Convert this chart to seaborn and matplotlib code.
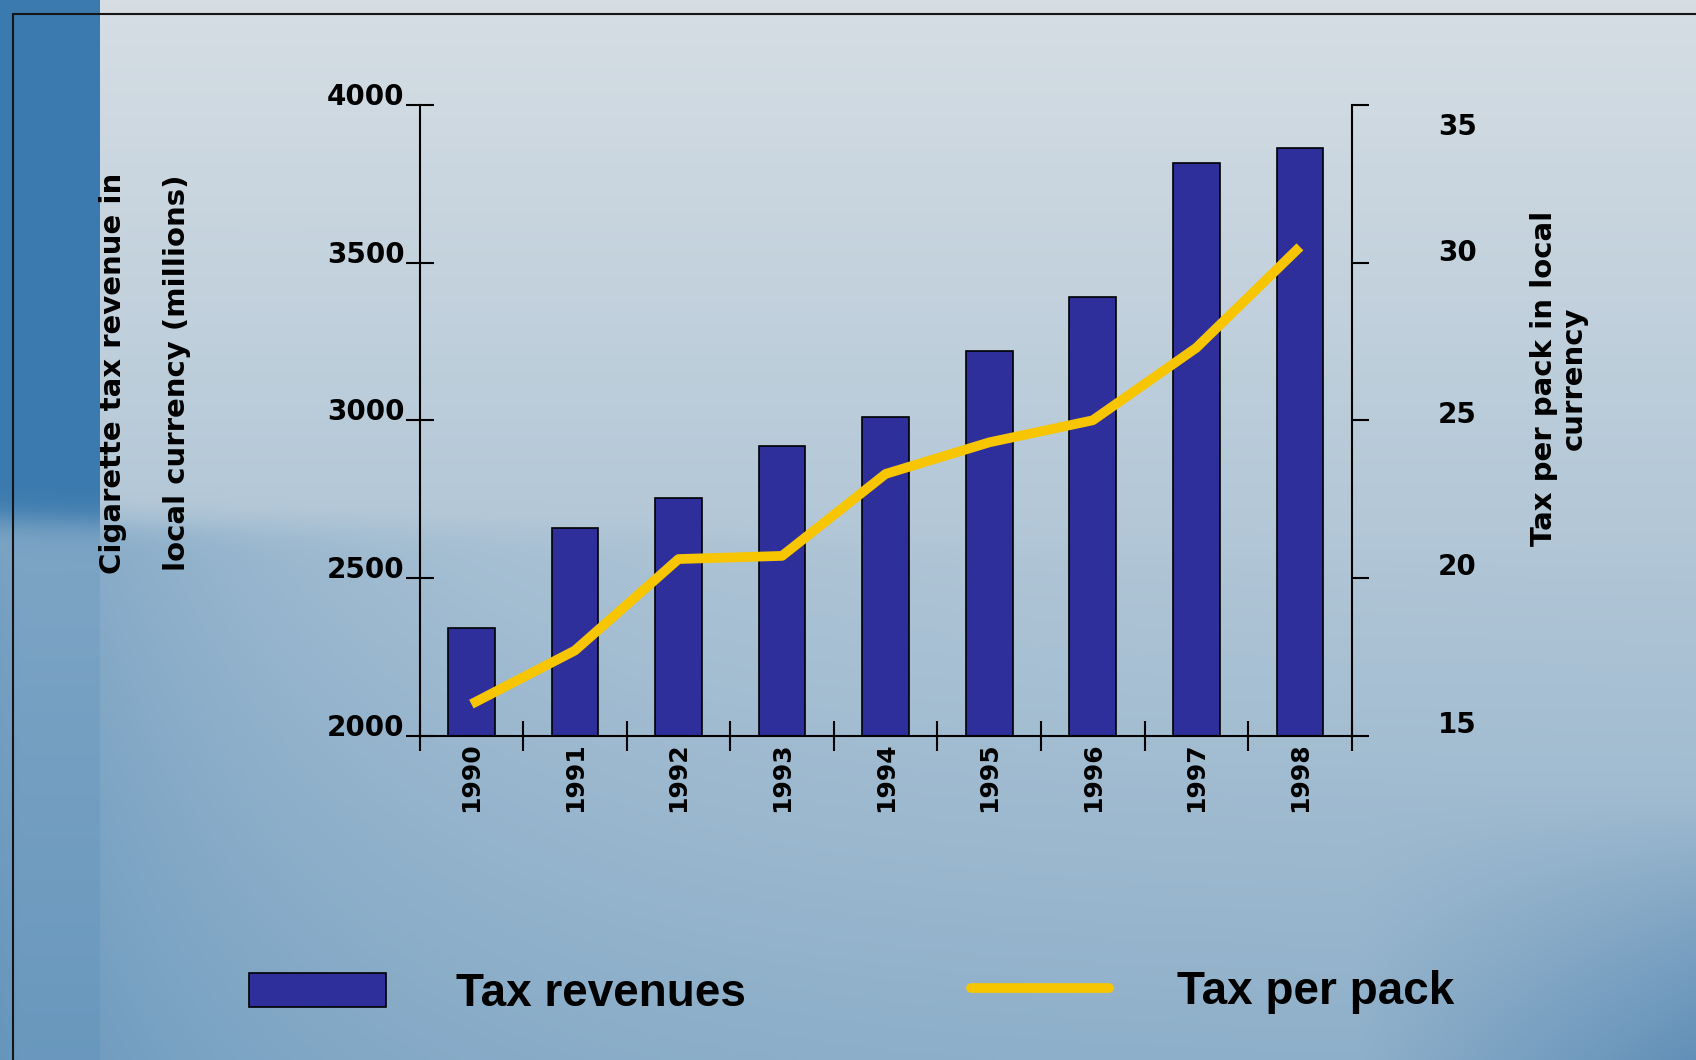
import numpy as np
import pandas as pd
import seaborn as sns
import matplotlib.pyplot as plt
from matplotlib.lines import Line2D
from matplotlib.patches import Patch
from matplotlib.colors import to_rgb
import matplotlib.transforms as mtransforms

# data
years = ["1990", "1991", "1992", "1993", "1994", "1995", "1996", "1997", "1998"]
tax_revenue = [2340, 2660, 2755, 2920, 3010, 3220, 3390, 3815, 3865]
tax_per_pack = [16.0, 17.7, 20.6, 20.7, 23.3, 24.3, 25.0, 27.3, 30.5]
left_ticks = [2000, 2500, 3000, 3500, 4000]
right_ticks = [15, 20, 25, 30, 35]

df = pd.DataFrame({"Year": years, "Revenue": tax_revenue, "PerPack": tax_per_pack})
df["pos"] = np.arange(len(df))

sns.set_style("ticks")
plt.rcParams["font.family"] = ["DejaVu Sans"]
plt.rcParams["font.weight"] = "bold"
for k in ["text.color", "axes.labelcolor", "xtick.color", "ytick.color", "axes.edgecolor"]:
    plt.rcParams[k] = "black"

BAR = "#2f2f9c"
GOLD = "#f7c600"

fig = plt.figure(figsize=(16.96, 10.6), dpi=100)

# --- background gradient ---
bg = fig.add_axes([0, 0, 1, 1], zorder=-10)
h, w = 530, 848
yy, xx = np.mgrid[0:1:h * 1j, 0:1:w * 1j]
top = np.array(to_rgb("#d6dee4"))
bot = np.array(to_rgb("#8fb0ca"))
img = top * (1 - yy[..., None]) + bot * yy[..., None]
strip = np.array(to_rgb("#3b7aae"))
edge = 0.49 + 0.04 * xx
lower = 1 / (1 + np.exp(-(yy - edge) / 0.008))
wgt = np.where(xx < 0.058, 1.0 - 0.55 * lower, 0.0)
wgt = np.maximum(wgt, 0.35 * np.exp(-(xx - 0.058) / 0.18) * lower)
img = img * (1 - wgt[..., None]) + strip * wgt[..., None]
corner = np.array(to_rgb("#4f82b0"))
cw = 0.7 * np.clip((xx - 0.8) / 0.2, 0, 1) * np.clip((yy - 0.75) / 0.25, 0, 1)
img = img * (1 - cw[..., None]) + corner * cw[..., None]
bg.imshow(img, aspect="auto", extent=[0, 1, 0, 1], origin="upper")
bg.axis("off")

fig.add_artist(Line2D([0.0077, 1.0], [0.987, 0.987], transform=fig.transFigure, color="#151515", lw=1.5))
fig.add_artist(Line2D([0.0077, 0.0077], [0.0, 0.987], transform=fig.transFigure, color="#151515", lw=1.5))

# --- main chart ---
ax = fig.add_axes([0.2474, 0.306, 0.5496, 0.595])
ax.patch.set_alpha(0)
sns.barplot(data=df, x="Year", y="Revenue", color=BAR, saturation=1,
            edgecolor="black", linewidth=1.2, width=0.45, ax=ax)
ax.set_ylim(2000, 4000)
ax.set_yticks(left_ticks)
ax.set_xlim(-0.5, len(years) - 0.5)
ax.set_xticks(np.arange(-0.5, len(years)), minor=True)
ax.set_xlabel("")
ax.set_ylabel("")
ax.tick_params(axis="y", direction="inout", length=20, width=1.5, labelsize=20, pad=1)
ax.tick_params(axis="x", which="major", length=0, labelsize=18, labelrotation=90, pad=5)
ax.tick_params(axis="x", which="minor", direction="inout", length=22, width=1.5)
for s in ["top", "right"]:
    ax.spines[s].set_visible(False)
for s in ["left", "bottom"]:
    ax.spines[s].set_linewidth(1.5)
up = mtransforms.ScaledTranslation(0, 8 / 72, fig.dpi_scale_trans)
for lbl in ax.get_yticklabels():
    lbl.set_transform(lbl.get_transform() + up)

ax2 = ax.twinx()
ax2.patch.set_alpha(0)
sns.lineplot(data=df, x="pos", y="PerPack", color=GOLD, lw=7, ax=ax2,
             solid_capstyle="butt")
ax2.set_xlim(-0.5, len(years) - 0.5)
ax2.set_ylim(15, 35)
ax2.set_yticks(right_ticks)
ax2.set_xlabel("")
ax2.set_ylabel("")
ax2.tick_params(axis="y", direction="out", length=12, width=1.5, labelsize=20, pad=50)
for s in ["top", "left", "bottom"]:
    ax2.spines[s].set_visible(False)
ax2.spines["right"].set_linewidth(1.5)
for lbl, dy in zip(ax2.get_yticklabels(), [10, 10, 6, 9, -14]):
    lbl.set_transform(lbl.get_transform() +
                      mtransforms.ScaledTranslation(0, dy / 72, fig.dpi_scale_trans))

fig.text(0.0855, 0.648, "Cigarette tax revenue in\nlocal currency (millions)", rotation=90,
         ha="center", va="center", fontsize=21, fontweight="bold", linespacing=2.6,
         multialignment="center")
fig.text(0.919, 0.643, "Tax per pack in local\ncurrency", rotation=90,
         ha="center", va="center", fontsize=21, fontweight="bold", linespacing=1.1,
         multialignment="center")

leg_font = {"family": "Liberation Sans", "size": 33, "weight": "bold"}
leg1 = fig.legend([Patch(facecolor=BAR, edgecolor="black", linewidth=1.2)], ["Tax revenues"],
                  loc="center left", bbox_to_anchor=(0.1467, 0.0622), frameon=False,
                  prop=leg_font, handlelength=3.0, handleheight=0.76, handletextpad=1.53,
                  borderpad=0, borderaxespad=0)
leg2 = fig.legend([Line2D([0], [0], color=GOLD, lw=7)], ["Tax per pack"],
                  loc="center left", bbox_to_anchor=(0.5727, 0.064), frameon=False,
                  prop=leg_font, handlelength=3.0, handletextpad=1.48,
                  borderpad=0, borderaxespad=0)

fig.savefig("out.png", dpi=100)
